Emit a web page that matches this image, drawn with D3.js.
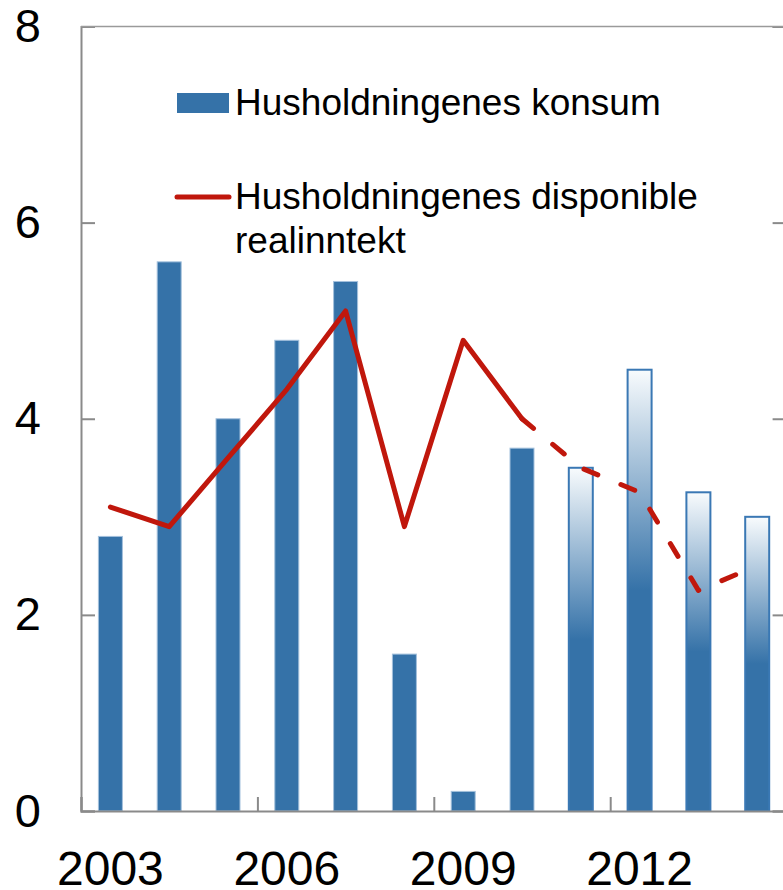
<!DOCTYPE html>
<html>
<head>
<meta charset="utf-8">
<script src="https://cdn.jsdelivr.net/npm/d3@7"></script>
<style>
  html, body { margin: 0; padding: 0; background: #fff; overflow: hidden; }
  text { font-family: "Liberation Sans", Arial, sans-serif; fill: #000; }
</style>
</head>
<body>
<div id="chart"></div>
<script>
// data
const years = [2003, 2004, 2005, 2006, 2007, 2008, 2009, 2010, 2011, 2012, 2013, 2014];
const konsum = [2.8, 5.6, 4.0, 4.8, 5.4, 1.6, 0.2, 3.7, 3.5, 4.5, 3.25, 3.0];
const realinntekt = [3.1, 2.9, 3.6, 4.3, 5.1, 2.9, 4.8, 4.0, 3.5, 3.25, 2.25, 2.5];
const firstProjection = 2011;
const yTicks = [0, 2, 4, 6, 8];
const xLabels = [2003, 2006, 2009, 2012];
const legendLabels = ['Husholdningenes konsum', 'Husholdningenes disponible', 'realinntekt'];

const W = 783, H = 890;
const plot = {left: 81, right: 786.6, top: 26.5, bottom: 811};
const barColor = '#3572a8', lineColor = '#c0170c', axisColor = '#8a8a8a';

const svg = d3.select('#chart')
    .append('svg')
        .attr('width', W)
        .attr('height', H);

const defs = svg.append('defs');
const grad = defs.append('linearGradient')
    .attr('id', 'proj')
    .attr('x1', 0).attr('y1', 0).attr('x2', 0).attr('y2', 1);
grad.append('stop').attr('offset', '0%').attr('stop-color', '#f8fbfd');
grad.append('stop').attr('offset', '50%').attr('stop-color', barColor);
grad.append('stop').attr('offset', '100%').attr('stop-color', barColor);

const x = d3.scaleBand()
    .domain(years)
    .range([plot.left, plot.right])
    .paddingInner(0.592)
    .paddingOuter(0.296);

const xi = d3.scaleLinear()
    .domain([0, years.length])
    .range([plot.left, plot.right]);

const y = d3.scaleLinear()
    .domain([0, 8])
    .range([plot.bottom, plot.top]);

// bars
svg.append('g')
    .selectAll('rect')
    .data(years)
    .enter()
    .append('rect')
    .attr('x', (d) => x(d))
    .attr('width', x.bandwidth())
    .attr('y', (d, i) => y(konsum[i]))
    .attr('height', (d, i) => y(0) - y(konsum[i]))
    .attr('fill', (d) => d >= firstProjection ? 'url(#proj)' : barColor)
    .attr('stroke', (d) => d >= firstProjection ? '#3a78b4' : '#a3c0dc')
    .attr('stroke-width', (d) => d >= firstProjection ? 2 : 1);

// axes
const yAxis = d3.axisLeft(y)
    .tickValues(yTicks)
    .tickSize(-14)
    .tickPadding(40)
    .tickFormat(d3.format('d'));

const gy = svg.append('g')
    .attr('transform', 'translate(' + plot.left + ',0)')
    .call(yAxis);
gy.selectAll('text').style('font-size', '47px');

const gr = svg.append('g')
    .attr('transform', 'translate(' + plot.right + ',0)')
    .call(d3.axisRight(y).tickValues(yTicks).tickSize(-14).tickFormat(''));

const gx = svg.append('g')
    .attr('transform', 'translate(0,' + plot.bottom + ')')
    .call(d3.axisBottom(xi).tickValues([0, 3, 6, 9, 12]).tickSize(-14).tickFormat(''));

const gxl = svg.append('g')
    .attr('transform', 'translate(0,' + plot.bottom + ')')
    .call(d3.axisBottom(x).tickValues(xLabels).tickSize(0).tickPadding(40));
gxl.selectAll('text').style('font-size', '48px');
gxl.select('.domain').remove();

[gy, gr, gx].forEach(g => {
    g.select('.domain').attr('stroke', axisColor).attr('stroke-width', 2);
    g.selectAll('.tick line').attr('stroke', axisColor).attr('stroke-width', 2);
});

// top frame line
svg.append('line')
    .attr('x1', plot.left).attr('x2', plot.right)
    .attr('y1', y(8)).attr('y2', y(8))
    .attr('stroke', '#9a9a9a')
    .attr('stroke-width', 1.5);

// line
const line = d3.line()
    .x((d) => x(d.year) + x.bandwidth() / 2)
    .y((d) => y(d.value));

const lineData = years.map((year, i) => ({ year, value: realinntekt[i] }));
const actual = lineData.filter(d => d.year < firstProjection);
const projected = lineData.filter(d => d.year >= firstProjection - 1);

svg.append('path')
    .datum(actual)
    .attr('d', line)
    .attr('fill', 'none')
    .attr('stroke', lineColor)
    .attr('stroke-width', 5)
    .attr('stroke-linejoin', 'round')
    .attr('stroke-linecap', 'round');

svg.append('path')
    .datum(projected)
    .attr('d', line)
    .attr('fill', 'none')
    .attr('stroke', lineColor)
    .attr('stroke-width', 5)
    .attr('stroke-dasharray', '15,25')
    .attr('stroke-linejoin', 'round')
    .attr('stroke-linecap', 'round');

// legend
const legend = svg.append('g');
legend.append('rect')
    .attr('x', 177).attr('y', 93)
    .attr('width', 52).attr('height', 20)
    .attr('fill', barColor);
legend.append('text')
    .attr('x', 235).attr('y', 115)
    .style('font-size', '37px')
    .text(legendLabels[0]);
legend.append('line')
    .attr('x1', 177).attr('x2', 229)
    .attr('y1', 197).attr('y2', 197)
    .attr('stroke', lineColor)
    .attr('stroke-width', 5)
    .attr('stroke-linecap', 'round');
legend.append('text')
    .attr('x', 235).attr('y', 209)
    .style('font-size', '37px')
    .text(legendLabels[1]);
legend.append('text')
    .attr('x', 235).attr('y', 253)
    .style('font-size', '37px')
    .text(legendLabels[2]);
</script>
</body>
</html>
